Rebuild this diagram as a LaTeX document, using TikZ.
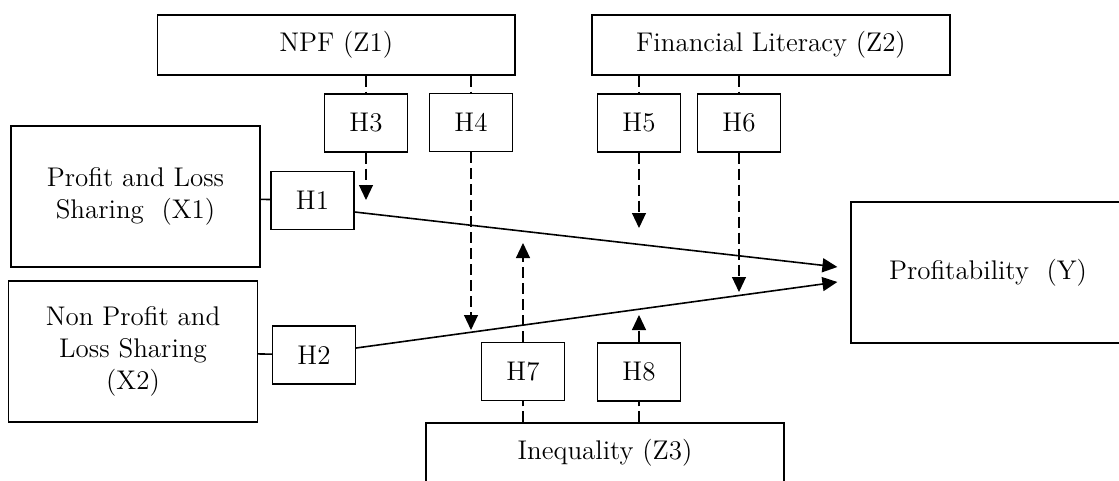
\documentclass[tikz,border=0pt]{standalone}
\usetikzlibrary{arrows.meta}
\begin{document}
\begin{tikzpicture}
[x=0.5pt,y=-0.5pt,>={Triangle[length=7.5pt,width=7pt]},
box/.style = {draw, line width=0.6pt, inner sep=0pt, align=center, font=\fontsize{13.5}{16}\selectfont},
hyp/.style = {box, minimum width=41.5pt, minimum height=29pt},
link/.style = {line width=0.8pt},
dlink/.style = {line width=0.55pt, dash pattern=on 5.5pt off 2.5pt},]
\useasboundingbox (0,0) rectangle (1119,481);
\node (Z1) at (336.25,45)[box,minimum width=178.75pt,minimum height=30pt] {NPF (Z1)};
\node (Z2) at (771,45)[box,minimum width=179pt,minimum height=30pt] {Financial Literacy (Z2)};
\node (Z3) at (605,453)[box,minimum width=179pt,minimum height=30pt] {Inequality (Z3)};
\node (X1) at (135.5,196.5)[box,minimum width=124.5pt,minimum height=70.5pt] {Profit and Loss\\Sharing~ (X1)};
\node (X2) at (133,351.5)[box,minimum width=124.5pt,minimum height=70.5pt] {Non Profit and\\Loss Sharing\\(X2)};
\node (Y) at (988,272.5)[box,minimum width=137pt,minimum height=70.5pt] {Profitability~ (Y)};
\node (H1) at (312.5,200.5)[hyp] {H1};
\node (H2) at (314,355)[hyp] {H2};
\node (H3) at (366,123)[hyp] {H3};
\node (H4) at (471,122.5)[hyp] {H4};
\node (H5) at (639,123)[hyp] {H5};
\node (H6) at (739,123)[hyp] {H6};
\node (H7) at (523,371.5)[hyp] {H7};
\node (H8) at (639,372)[hyp] {H8};
\coordinate (T3) at (366,200);
\coordinate (T4) at (471,330);
\coordinate (T5) at (639,228);
\coordinate (T6) at (739,292);
\coordinate (T7) at (523,243);
\coordinate (T8) at (639,315);
\draw[link] (X1) -- (H1);
\draw[link] (X2) -- (H2);
\draw[link,->] ([yshift=-5.75pt]H1.east) -- ([xshift=-6.5pt,yshift=2.75pt]Y.west);
\draw[link,->] ([yshift=3.5pt]H2.east) -- ([xshift=-6.5pt,yshift=-4.75pt]Y.west);
\draw[dlink] (H3.north |- Z1.south) -- (H3.north);
\draw[dlink] (H4.north |- Z1.south) -- (H4.north);
\draw[dlink] (H5.north |- Z2.south) -- (H5.north);
\draw[dlink] (H6.north |- Z2.south) -- (H6.north);
\draw[dlink] (H7.south |- Z3.north) -- (H7.south);
\draw[dlink] (H8.south |- Z3.north) -- (H8.south);
\draw[dlink,->] (H3) -- (T3);
\draw[dlink,->] (H4) -- (T4);
\draw[dlink,->] (H5) -- (T5);
\draw[dlink,->] (H6) -- (T6);
\draw[dlink,->] (H7) -- (T7);
\draw[dlink,->] (H8) -- (T8);
\end{tikzpicture}
\end{document}
